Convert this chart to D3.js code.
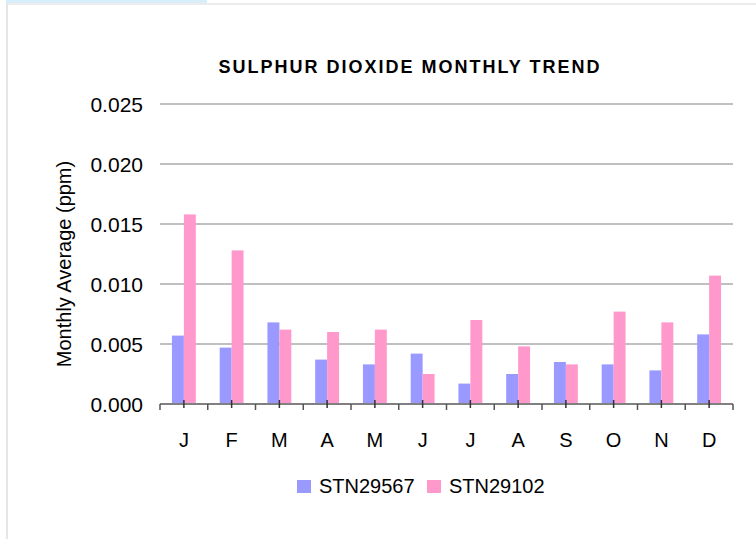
<!DOCTYPE html>
<html>
<head>
<meta charset="utf-8">
<script src="https://cdn.jsdelivr.net/npm/d3@7"></script>
<style>
  body { margin: 0; background: #fff; }
  text { font-family: "Liberation Sans", Arial, sans-serif; fill: #000; }
</style>
</head>
<body>
<div id="chart"></div>
<script>
var width = 756,
    height = 539;

// data
var months = ["J", "F", "M", "A", "M", "J", "J", "A", "S", "O", "N", "D"];
var seriesNames = ["STN29567", "STN29102"];
var stn29567 = [0.0057, 0.0047, 0.0068, 0.0037, 0.0033, 0.0042, 0.0017, 0.0025, 0.0035, 0.0033, 0.0028, 0.0058];
var stn29102 = [0.0158, 0.0128, 0.0062, 0.0060, 0.0062, 0.0025, 0.0070, 0.0048, 0.0033, 0.0077, 0.0068, 0.0107];
var yTicks = [0, 0.005, 0.010, 0.015, 0.020, 0.025];
var colors = ["#9999ff", "#ff99cc"];

var margin = {top: 104, left: 160, right: 23, bottom: 135};
var plotW = width - margin.left - margin.right,
    plotH = height - margin.top - margin.bottom;

var svg = d3.select("#chart").append("svg")
    .attr("width", width)
    .attr("height", height);

// frame bits
svg.append("rect").attr("x", 6).attr("y", 0).attr("width", 201).attr("height", 3).attr("fill", "#d9eefb");
svg.append("rect").attr("x", 6).attr("y", 3).attr("width", width - 6).attr("height", 2).attr("fill", "#ececec");
svg.append("rect").attr("x", 6).attr("y", 3).attr("width", 2).attr("height", height).attr("fill", "#e6e6e6");

var x0 = d3.scaleBand()
    .domain(d3.range(months.length))
    .range([margin.left, margin.left + plotW])
    .padding(0);

var x1 = d3.scaleBand()
    .domain(seriesNames)
    .range([0, x0.bandwidth()])
    .paddingInner(0)
    .paddingOuter(1);

var y = d3.scaleLinear()
    .domain([0, 0.025])
    .range([margin.top + plotH, margin.top]);

// gridlines
svg.append("g")
    .selectAll("line")
    .data(yTicks.slice(1))
    .enter().append("line")
    .attr("x1", margin.left)
    .attr("x2", margin.left + plotW)
    .attr("y1", function(d) { return y(d); })
    .attr("y2", function(d) { return y(d); })
    .style("stroke", "#c0c0c0")
    .style("stroke-width", 2);

// y labels
svg.append("g")
    .selectAll("text")
    .data(yTicks)
    .enter().append("text")
    .attr("x", margin.left - 17)
    .attr("y", function(d) { return y(d); })
    .attr("dy", "0.36em")
    .attr("text-anchor", "end")
    .style("font-size", "21px")
    .text(function(d) { return d3.format(".3f")(d); });

var rows = months.map(function(m, i) { return [stn29567[i], stn29102[i]]; });

var groups = svg.append("g")
    .selectAll("g")
    .data(rows)
    .enter().append("g")
    .attr("transform", function(d, i) { return "translate(" + x0(i) + ",0)"; });

groups.selectAll("rect")
    .data(function(d) { return d.map(function(v, j) { return {key: seriesNames[j], value: v, j: j}; }); })
    .enter().append("rect")
    .attr("x", function(d) { return x1(d.key); })
    .attr("width", x1.bandwidth())
    .attr("y", function(d) { return y(d.value); })
    .attr("height", function(d) { return y(0) - y(d.value); })
    .style("fill", function(d) { return colors[d.j]; });

// x axis line and ticks
var y0 = y(0);
svg.append("line")
    .attr("x1", margin.left).attr("x2", margin.left + plotW)
    .attr("y1", y0).attr("y2", y0)
    .style("stroke", "#808080")
    .style("stroke-width", 2);

svg.append("g")
    .selectAll("line")
    .data(d3.range(months.length + 1))
    .enter().append("line")
    .attr("x1", function(i) { return margin.left + i * x0.step(); })
    .attr("x2", function(i) { return margin.left + i * x0.step(); })
    .attr("y1", y0).attr("y2", y0 + 6)
    .style("stroke", "#555")
    .style("stroke-width", 1.5);

svg.append("g")
    .selectAll("line")
    .data(d3.range(months.length))
    .enter().append("line")
    .attr("x1", function(i) { return x0(i) + x0.bandwidth() / 2; })
    .attr("x2", function(i) { return x0(i) + x0.bandwidth() / 2; })
    .attr("y1", y0 - 4).attr("y2", y0 + 4)
    .style("stroke", "#333")
    .style("stroke-width", 1.5);

// x labels
svg.append("g")
    .selectAll("text")
    .data(months)
    .enter().append("text")
    .attr("x", function(d, i) { return x0(i) + x0.bandwidth() / 2; })
    .attr("y", y0 + 43)
    .attr("text-anchor", "middle")
    .style("font-size", "20px")
    .text(function(d) { return d; });

// title
svg.append("text")
    .attr("x", 410)
    .attr("y", 73)
    .attr("text-anchor", "middle")
    .style("font-size", "18px")
    .style("font-weight", "bold")
    .style("letter-spacing", "2px")
    .text("SULPHUR DIOXIDE MONTHLY TREND");

// y title
svg.append("text")
    .attr("transform", "translate(71," + (margin.top + 160) + ")rotate(-90)")
    .attr("text-anchor", "middle")
    .style("font-size", "20px")
    .text("Monthly Average (ppm)");

// legend
var legend = svg.append("g")
    .selectAll("g")
    .data(seriesNames)
    .enter().append("g")
    .attr("transform", function(d, i) { return "translate(" + (297 + i * 130) + ",480)"; });

legend.append("rect")
    .attr("width", 14)
    .attr("height", 13)
    .style("fill", function(d, i) { return colors[i]; });

legend.append("text")
    .attr("x", 22)
    .attr("y", 13)
    .style("font-size", "20px")
    .text(function(d) { return d; });
</script>
</body>
</html>
